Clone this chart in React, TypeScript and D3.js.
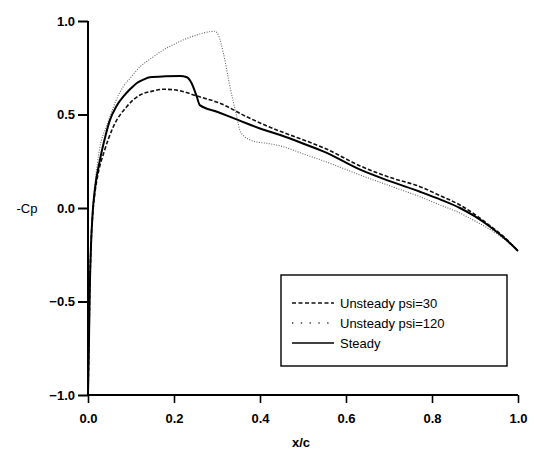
import { useEffect, useRef } from "react";
import * as d3 from "d3";

// Pressure coefficient along chord
const steadyX = [0, 0.002, 0.004, 0.007, 0.011, 0.016, 0.028, 0.04, 0.051, 0.065, 0.082, 0.1, 0.113, 0.13, 0.144, 0.18, 0.214, 0.23, 0.241, 0.253, 0.26, 0.3, 0.35, 0.4, 0.447, 0.5, 0.55, 0.633, 0.7, 0.772, 0.82, 0.865, 0.9, 0.935, 0.97, 1.0];
const steadyY = [-1.0, -0.75, -0.45, -0.2, -0.02, 0.1, 0.26, 0.38, 0.47, 0.54, 0.595, 0.64, 0.667, 0.688, 0.699, 0.704, 0.706, 0.699, 0.667, 0.595, 0.55, 0.515, 0.47, 0.425, 0.39, 0.345, 0.3, 0.205, 0.145, 0.087, 0.045, 0.0, -0.045, -0.1, -0.165, -0.23];

const psi30X = [0, 0.002, 0.004, 0.007, 0.011, 0.016, 0.025, 0.036, 0.059, 0.09, 0.121, 0.15, 0.175, 0.2, 0.214, 0.253, 0.307, 0.369, 0.4, 0.447, 0.5, 0.55, 0.633, 0.7, 0.772, 0.82, 0.865, 0.9, 0.935, 0.97, 1.0];
const psi30Y = [-1.0, -0.75, -0.45, -0.2, -0.03, 0.08, 0.2, 0.29, 0.435, 0.542, 0.604, 0.625, 0.635, 0.632, 0.627, 0.599, 0.56, 0.488, 0.455, 0.41, 0.365, 0.32, 0.225, 0.165, 0.114, 0.065, 0.016, -0.035, -0.095, -0.16, -0.23];

const psi120X = [0, 0.002, 0.004, 0.007, 0.011, 0.016, 0.028, 0.04, 0.051, 0.065, 0.082, 0.1, 0.121, 0.15, 0.175, 0.2, 0.23, 0.26, 0.284, 0.295, 0.303, 0.315, 0.33, 0.346, 0.353, 0.365, 0.377, 0.395, 0.416, 0.447, 0.5, 0.55, 0.633, 0.7, 0.772, 0.82, 0.865, 0.9, 0.935, 0.97, 1.0];
const psi120Y = [-1.0, -0.75, -0.45, -0.2, -0.01, 0.12, 0.33, 0.42, 0.488, 0.575, 0.649, 0.7, 0.755, 0.805, 0.845, 0.875, 0.907, 0.93, 0.943, 0.945, 0.925, 0.827, 0.649, 0.488, 0.417, 0.38, 0.364, 0.352, 0.346, 0.332, 0.29, 0.25, 0.176, 0.12, 0.06, 0.015, -0.027, -0.07, -0.115, -0.17, -0.23];

const xTicks = [0, 0.2, 0.4, 0.6, 0.8, 1.0];
const yTicks = [-1.0, -0.5, 0, 0.5, 1.0];

const seriesNames = ["Unsteady psi=30", "Unsteady psi=120", "Steady"];

export default function App() {
  const svgRef = useRef<SVGSVGElement | null>(null);

  useEffect(() => {
    if (!svgRef.current) return;
    const width = 537;
    const height = 457;
    const svg = d3.select(svgRef.current);
    svg.selectAll("*").remove();

    const x = d3.scaleLinear().domain([0, 1]).range([88, 518]);
    const y = d3.scaleLinear().domain([-1, 1]).range([395, 21]);

    const font = "'Liberation Sans', Arial, Helvetica, sans-serif";

    // axes
    const yAxis = svg.append("g")
      .attr("transform", `translate(${x(0)},0)`)
      .call(d3.axisLeft(y).tickValues(yTicks).tickFormat(d3.format(".1f")).tickSize(10).tickPadding(3));
    yAxis.select(".domain").attr("stroke-width", 2).attr("d", `M0,${y(1)}V${y(-1)}`);
    yAxis.selectAll(".tick line").attr("stroke-width", 2);
    yAxis.selectAll("text")
      .attr("font-family", font)
      .attr("font-size", 13)
      .attr("font-weight", "bold")
      .attr("fill", "#000");

    const xAxis = svg.append("g")
      .attr("transform", `translate(0,${y(-1)})`)
      .call(d3.axisBottom(x).tickValues(xTicks).tickFormat(d3.format(".1f")).tickSize(8).tickPadding(11));
    xAxis.select(".domain").attr("stroke-width", 2).attr("d", `M${x(0)},0H${x(1)}`);
    xAxis.selectAll(".tick line").attr("stroke-width", 1.6);
    xAxis.selectAll("text")
      .attr("font-family", font)
      .attr("font-size", 13)
      .attr("font-weight", "bold")
      .attr("fill", "#000");

    // axis titles
    svg.append("text")
      .attr("x", 27)
      .attr("y", y(0))
      .attr("dy", "0.35em")
      .attr("text-anchor", "middle")
      .attr("font-family", font)
      .attr("font-size", 13)
      .text("-Cp");

    svg.append("text")
      .attr("x", 301)
      .attr("y", 442)
      .attr("dy", "0.35em")
      .attr("text-anchor", "middle")
      .attr("font-family", font)
      .attr("font-size", 13)
      .attr("font-weight", "bold")
      .text("x/c");

    const line = d3.line<[number, number]>()
      .x(d => x(d[0]))
      .y(d => y(d[1]))
      .curve(d3.curveMonotoneX);

    const styles = [
      { xs: psi30X, ys: psi30Y, stroke: "#111", width: 1.6, dash: "4,2" },
      { xs: psi120X, ys: psi120Y, stroke: "#666", width: 1.1, dash: "1,1.5" },
      { xs: steadyX, ys: steadyY, stroke: "#000", width: 2, dash: null as string | null },
    ];

    styles.forEach(s => {
      const pts = s.xs.map((v, i) => [v, s.ys[i]] as [number, number]);
      svg.append("path")
        .attr("d", line(pts))
        .attr("fill", "none")
        .attr("stroke", s.stroke)
        .attr("stroke-width", s.width)
        .attr("stroke-dasharray", s.dash);
    });

    // legend
    const lg = svg.append("g");
    lg.append("rect")
      .attr("x", 281).attr("y", 275)
      .attr("width", 226).attr("height", 91)
      .attr("fill", "#fff")
      .attr("stroke", "#000")
      .attr("stroke-width", 1.4);
    const legendStroke = [
      { stroke: "#111", width: 1.4, dash: "4,2.5" },
      { stroke: "#333", width: 1.3, dash: "1.3,7.5" },
      { stroke: "#000", width: 1.6, dash: null as string | null },
    ];
    seriesNames.forEach((name, i) => {
      const cy = 303 + i * 20;
      lg.append("line")
        .attr("x1", 292).attr("x2", 334)
        .attr("y1", cy).attr("y2", cy)
        .attr("stroke", legendStroke[i].stroke)
        .attr("stroke-width", legendStroke[i].width)
        .attr("stroke-dasharray", legendStroke[i].dash);
      lg.append("text")
        .attr("x", 340)
        .attr("y", cy)
        .attr("dy", "0.35em")
        .attr("font-family", font)
        .attr("font-size", 13)
        .text(name);
    });

    svg.attr("width", width).attr("height", height);
  }, []);

  return (
    <svg
      ref={svgRef}
      width={537}
      height={457}
      style={{ position: "absolute", left: 0, top: 0, background: "#fff" }}
    />
  );
}
